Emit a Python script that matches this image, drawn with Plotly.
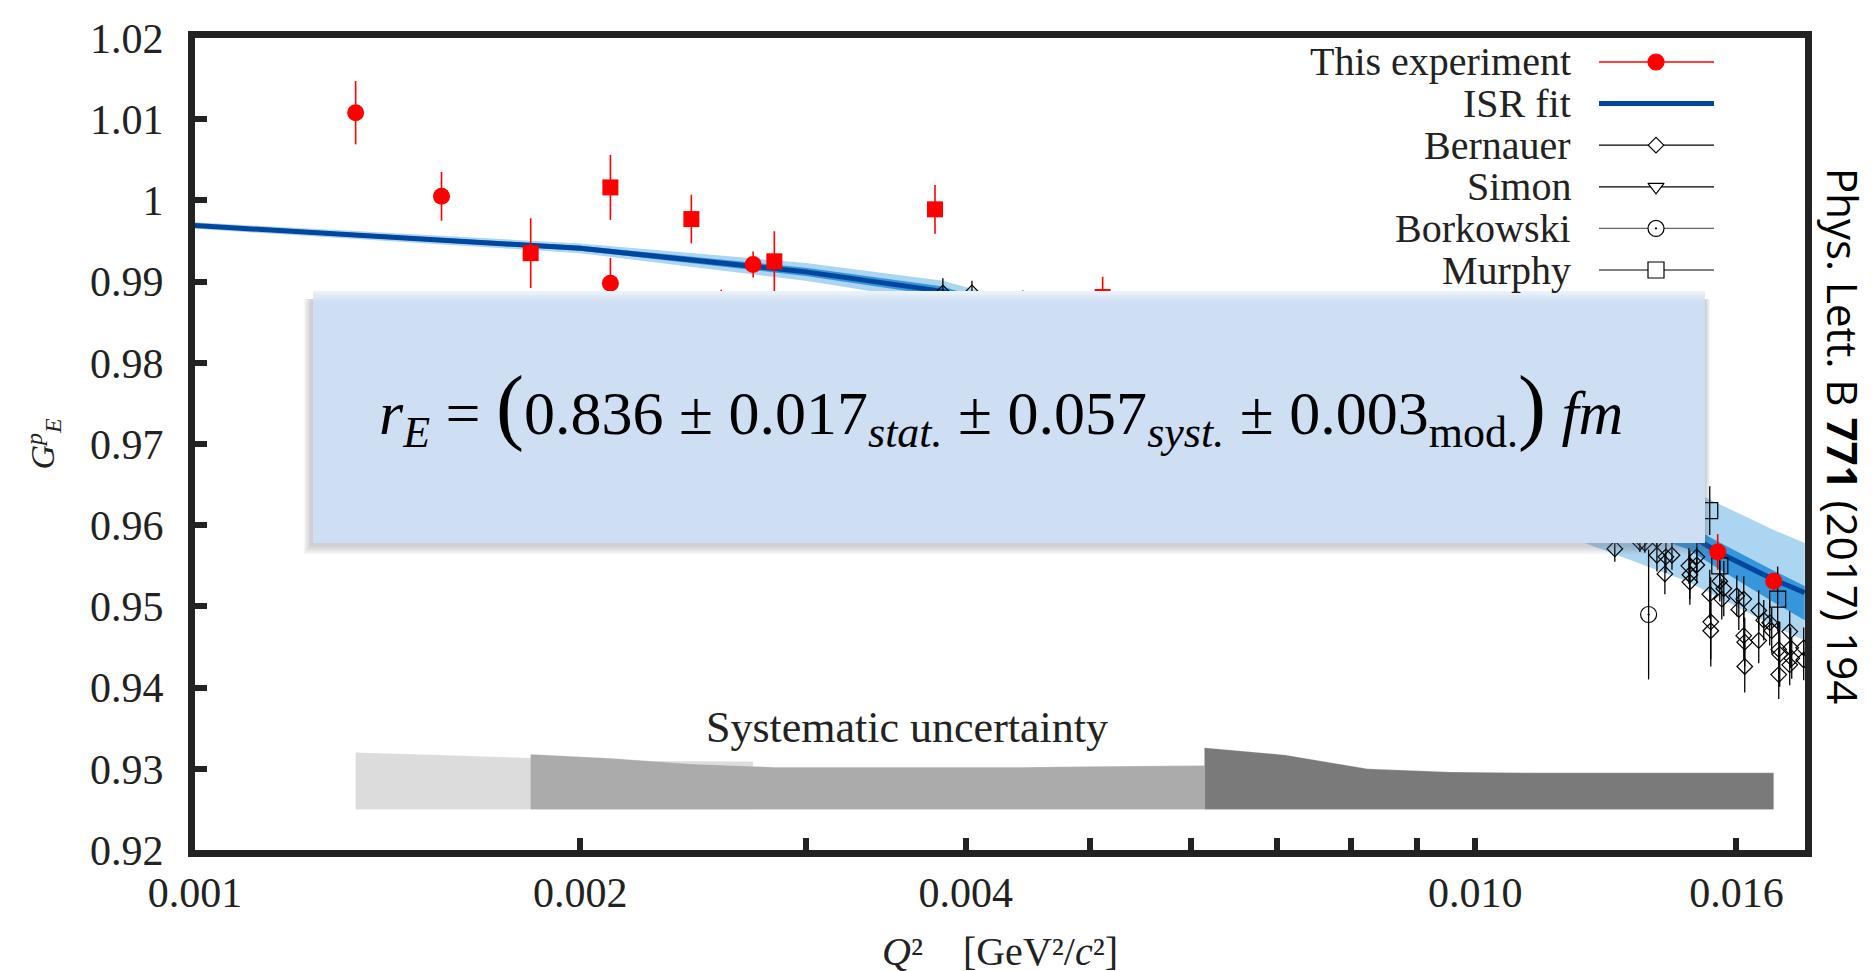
import numpy as np
import plotly.graph_objects as go

# ---------------- data ----------------
# This experiment: two sub-samples (circles / squares)
exp_circle_q = [0.001335, 0.001558, 0.002111, 0.002577, 0.002729, 0.01547, 0.01711]
exp_circle_ge = [1.0108, 1.0005, 0.9898, 0.9866, 0.9921, 0.9567, 0.9531]
exp_circle_err = [0.0039, 0.0030, 0.0031, 0.0024, 0.0016, 0.0022, 0.0010]

exp_square_q = [0.001829, 0.002111, 0.002442, 0.002835, 0.003785, 0.005117]
exp_square_ge = [0.9935, 1.0016, 0.9977, 0.9925, 0.9989, 0.9881]
exp_square_err = [0.0043, 0.0040, 0.0030, 0.0037, 0.0030, 0.0025]

# ISR fit and its uncertainty bands
fit_q = [0.001, 0.002, 0.003, 0.00384, 0.01464, 0.01547, 0.01711, 0.01809]
fit_ge = [0.9969, 0.9941, 0.9912, 0.9888, 0.9590, 0.9567, 0.9533, 0.9517]
fit_total_lo = [0.9965, 0.9935, 0.9901, 0.9874, 0.9531, 0.9512, 0.9476, 0.9458]
fit_total_hi = [0.9973, 0.9947, 0.9923, 0.9901, 0.9645, 0.9627, 0.9594, 0.9578]
fit_stat_lo = [0.9967, 0.9938, 0.9907, 0.9882, 0.9571, 0.9547, 0.9505, 0.9483]
fit_stat_hi = [0.9971, 0.9944, 0.9917, 0.9894, 0.9601, 0.9580, 0.9544, 0.9525]

# Bernauer (Mainz A1)
bern_q = [0.003839, 0.004045, 0.004433,
          0.012856, 0.013449, 0.013570, 0.013868, 0.013868, 0.014094, 0.014248,
          0.014068, 0.014688, 0.014714, 0.014714, 0.014900, 0.014900, 0.015250,
          0.015278, 0.015278, 0.015528, 0.015640, 0.015584, 0.016010, 0.016212,
          0.016068, 0.016212, 0.016241, 0.016241, 0.016655, 0.016806, 0.016655,
          0.016987, 0.017048, 0.017265, 0.017296, 0.017265, 0.017609, 0.017641,
          0.017673, 0.018057, 0.018057, 0.017609]
bern_ge = [0.9886, 0.9886, 0.9877,
           0.9571, 0.9579, 0.9578, 0.9582, 0.9563, 0.9561, 0.9563,
           0.9540, 0.9550, 0.9539, 0.9530, 0.9561, 0.9551, 0.9515,
           0.9481, 0.9470, 0.9531, 0.9522, 0.9509, 0.9513, 0.9509,
           0.9496, 0.9464, 0.9456, 0.9426, 0.9495, 0.9483, 0.9458,
           0.9480, 0.9470, 0.9447, 0.9441, 0.9416, 0.9469, 0.9449,
           0.9436, 0.9449, 0.9434, 0.9428]
bern_err = [0.0018, 0.0015, 0.0012,
            0.0016, 0.0012, 0.0012, 0.0012, 0.0020, 0.0020, 0.0018,
            0.0025, 0.0022, 0.0030, 0.0028, 0.0018, 0.0022, 0.0030,
            0.0055, 0.0035, 0.0025, 0.0034, 0.0025, 0.0025, 0.0028,
            0.0025, 0.0030, 0.0030, 0.0032, 0.0025, 0.0025, 0.0028,
            0.0028, 0.0028, 0.0035, 0.0040, 0.0030, 0.0025, 0.0025,
            0.0025, 0.0025, 0.0025, 0.0025]

borkowski_q = [0.013662]
borkowski_ge = [0.9490]
borkowski_err = [0.0080]

murphy_q = [0.015250, 0.015528, 0.017232]
murphy_ge = [0.9618, 0.9550, 0.9509]
murphy_err = [0.0030, 0.0020, 0.0040]

# Systematic uncertainty bands (drawn from a common base)
syst_base = 0.925
syst_a_q = [0.001335, 0.001558, 0.002111, 0.002729]
syst_a_top = [0.9320, 0.9317, 0.9310, 0.9309]
syst_b_q = [0.001829, 0.002111, 0.002442, 0.002835, 0.003785, 0.004418, 0.005117, 0.005993, 0.006146]
syst_b_top = [0.9318, 0.9313, 0.9306, 0.9302, 0.9302, 0.9302, 0.9303, 0.9304, 0.9304]
syst_c_q = [0.006146, 0.007108, 0.008237, 0.009562, 0.011078, 0.012953, 0.01547, 0.01711]
syst_c_top = [0.9326, 0.9317, 0.9300, 0.9296, 0.9295, 0.9295, 0.9295, 0.9295]

# Axis ticks
x_tick_vals = [0.001, 0.002, 0.004, 0.010, 0.016]
x_tick_text = ["0.001", "0.002", "0.004", "0.010", "0.016"]
x_minor_vals = [0.003, 0.005, 0.006, 0.007, 0.008, 0.009]
y_tick_vals = [0.92, 0.93, 0.94, 0.95, 0.96, 0.97, 0.98, 0.99, 1.00, 1.01, 1.02]
y_tick_text = ["0.92", "0.93", "0.94", "0.95", "0.96", "0.97", "0.98", "0.99", "1", "1.01", "1.02"]

radius_line_q = 0.004
legend_labels = ["This experiment", "ISR fit", "Bernauer", "Simon", "Borkowski", "Murphy"]

# ---------------- layout constants ----------------
W, H = 1876, 971
ML, MR, MT, MB = 187, 79, 30, 129
PW, PH = W - ML - MR, H - MT - MB
SERIF = "Liberation Serif, Times New Roman, serif"
INK = "#222222"


def pxx(px):
    return (px - ML) / PW


def pxy(py):
    return (H - MB - py) / PH


def poly(xs, top, base):
    return list(xs) + list(xs)[::-1], list(top) + [base] * len(xs)


def band(xs, lo, hi):
    return list(xs) + list(xs)[::-1], list(hi) + list(lo)[::-1]


def shifted(txt, size, shift):
    # sub/superscript via baseline-shift (no extra spacer elements)
    return "<span style='font-size:%dpx;baseline-shift:%dpx'>%s</span>" % (size, shift, txt)


fig = go.Figure()

# systematic uncertainty
for qs, tops, col in [(syst_a_q, syst_a_top, "#dcdcdc"),
                      (syst_b_q, syst_b_top, "#ababab"),
                      (syst_c_q, syst_c_top, "#7a7a7a")]:
    px_, py_ = poly(qs, tops, syst_base)
    fig.add_trace(go.Scatter(x=px_, y=py_, fill="toself", fillcolor=col,
                             line=dict(width=0.6, color="rgba(255,255,255,0.35)"),
                             mode="lines", hoverinfo="skip", showlegend=False))

# ISR fit bands and line
bx, by = band(fit_q, fit_total_lo, fit_total_hi)
fig.add_trace(go.Scatter(x=bx, y=by, fill="toself", fillcolor="#acd5f1",
                         line=dict(width=0), mode="lines", hoverinfo="skip", showlegend=False))
bx, by = band(fit_q, fit_stat_lo, fit_stat_hi)
fig.add_trace(go.Scatter(x=bx, y=by, fill="toself", fillcolor="#3596db",
                         line=dict(width=0), mode="lines", hoverinfo="skip", showlegend=False))
fig.add_trace(go.Scatter(x=fit_q, y=fit_ge, mode="lines",
                         line=dict(color="#00469f", width=5), showlegend=False))

# world data
err_black = dict(type="data", thickness=1.3, width=0, color="black")
fig.add_trace(go.Scatter(x=bern_q, y=bern_ge, mode="markers",
                         error_y=dict(array=bern_err, **err_black),
                         marker=dict(symbol="diamond-open", size=12, color="black", line=dict(width=1.2)),
                         cliponaxis=False, showlegend=False))
fig.add_trace(go.Scatter(x=borkowski_q, y=borkowski_ge, mode="markers",
                         error_y=dict(array=borkowski_err, **err_black),
                         marker=dict(symbol="circle-open-dot", size=16, color="black", line=dict(width=1.2)),
                         showlegend=False))
fig.add_trace(go.Scatter(x=murphy_q, y=murphy_ge, mode="markers",
                         error_y=dict(array=murphy_err, **err_black),
                         marker=dict(symbol="square-open", size=16, color="black", line=dict(width=1.2)),
                         showlegend=False))

# this experiment
err_red = dict(type="data", thickness=1.6, width=0, color="#ff0000")
fig.add_trace(go.Scatter(x=exp_circle_q, y=exp_circle_ge, mode="markers",
                         error_y=dict(array=exp_circle_err, **err_red),
                         marker=dict(symbol="circle", size=17, color="#ff0000"), showlegend=False))
fig.add_trace(go.Scatter(x=exp_square_q, y=exp_square_ge, mode="markers",
                         error_y=dict(array=exp_square_err, **err_red),
                         marker=dict(symbol="square", size=16, color="#ff0000"), showlegend=False))

# ---------------- custom legend (symbols to the right of the text) ----------------
row_y0, row_dy = 54, 41.6
lx0, lx1, lxm, ltext = 1591, 1706, 1648, 1564
leg_styles = [
    dict(lc="#ff0000", lw=1.3, sym="circle", ms=16, mc="#ff0000", mlc="#ff0000"),
    dict(lc="#00469f", lw=5, sym=None),
    dict(lc="black", lw=1.2, sym="diamond", ms=12, mc="white", mlc="black"),
    dict(lc="black", lw=1.2, sym="triangle-down", ms=14, mc="white", mlc="black"),
    dict(lc="#666666", lw=1.2, sym="circle-dot", ms=16, mc="white", mlc="black"),
    dict(lc="black", lw=1.2, sym="square", ms=16, mc="white", mlc="black"),
]
annotations = []
for i, (lab, st) in enumerate(zip(legend_labels, leg_styles)):
    yy = pxy(row_y0 + i * row_dy)
    fig.add_trace(go.Scatter(x=[pxx(lx0), pxx(lx1)], y=[yy, yy], mode="lines",
                             line=dict(color=st["lc"], width=st["lw"]),
                             xaxis="x2", yaxis="y2", hoverinfo="skip", showlegend=False))
    if st["sym"]:
        fig.add_trace(go.Scatter(x=[pxx(lxm)], y=[yy], mode="markers",
                                 marker=dict(symbol=st["sym"], size=st["ms"], color=st["mc"],
                                             line=dict(color=st["mlc"], width=1.2)),
                                 xaxis="x2", yaxis="y2", hoverinfo="skip", showlegend=False))
    annotations.append(dict(xref="paper", yref="paper", x=pxx(ltext), y=yy, text=lab,
                            xanchor="right", yanchor="middle", showarrow=False, borderpad=0,
                            font=dict(family=SERIF, size=40, color=INK)))

# ---------------- shapes: dashed line + result box ----------------
shapes = []
xl = np.log10(radius_line_q)
shapes.append(dict(type="line", xref="x", yref="paper", x0=xl, x1=xl, y0=1.0, y1=-0.008,
                   line=dict(color="#4774a6", width=10, dash="32px,11px"), layer="above"))

bx0, by0, bx1, by1 = 305, 283, 1697, 535
for k in range(6, 0, -1):
    shapes.append(dict(type="rect", xref="paper", yref="paper",
                       x0=pxx(bx0 - 1 - k * 1.4), x1=pxx(bx1 + k * 0.8),
                       y0=pxy(by1 + 2 + k * 1.5), y1=pxy(by0 + 8),
                       line=dict(width=0), fillcolor="rgba(100,110,125,0.06)", layer="above"))
shapes.append(dict(type="rect", xref="paper", yref="paper",
                   x0=pxx(bx0), x1=pxx(bx1), y0=pxy(by1), y1=pxy(by0),
                   line=dict(width=0), fillcolor="rgb(206,223,243)", layer="above"))
for k in range(5):
    shapes.append(dict(type="rect", xref="paper", yref="paper",
                       x0=pxx(bx0 - 12), x1=pxx(bx1 + 12),
                       y0=pxy(by0 + 2 * k + 2), y1=pxy(by0 + 2 * k),
                       line=dict(width=0), fillcolor="rgba(255,255,255,%.2f)" % (0.6 - 0.12 * k),
                       layer="above"))

formula = ("<i>r</i>" + shifted("<i>E</i>", 44, -13)
           + " = <span style='font-size:84px'>(</span>0.836 ± 0.017"
           + shifted("<i>stat.</i>", 44, -13) + " ± 0.057" + shifted("<i>syst.</i>", 44, -13)
           + " ± 0.003" + shifted("mod.", 44, -13)
           + "<span style='font-size:84px'>)</span> <i>fm</i>")
annotations.append(dict(xref="paper", yref="paper", x=pxx(993), y=pxy(400), text=formula,
                        showarrow=False, xanchor="center", yanchor="middle",
                        font=dict(family=SERIF, size=62, color="black")))

annotations.append(dict(xref="x", yref="y", x=np.log10(0.0036), y=0.9351,
                        text="Systematic uncertainty", showarrow=False,
                        xanchor="center", yanchor="middle",
                        font=dict(family=SERIF, size=44, color=INK)))

annotations.append(dict(xref="paper", yref="paper", x=pxx(1836), y=pxy(428),
                        text="Phys. Lett. B <b>771</b> (2017) 194", textangle=90,
                        showarrow=False, xanchor="center", yanchor="middle",
                        font=dict(family="Open Sans, Noto Sans, sans-serif", size=42, color="black")))

tick_common = dict(ticks="inside", ticklen=12, tickwidth=6, tickcolor=INK,
                   showline=True, linewidth=7, linecolor=INK, mirror=True,
                   showgrid=False, zeroline=False)

y_title = "<i>G</i>" + shifted("<i>p</i>", 24, 12) + shifted("<i>E</i>", 24, -7)

fig.update_layout(
    width=W, height=H, margin=dict(l=ML, r=MR, t=MT, b=MB, autoexpand=False),
    paper_bgcolor="white", plot_bgcolor="white",
    shapes=shapes, annotations=annotations, showlegend=False,
    xaxis=dict(type="log", range=[np.log10(0.001), np.log10(0.0181)],
               tickvals=x_tick_vals, ticktext=x_tick_text, ticklabelstandoff=0,
               minor=dict(tickvals=x_minor_vals, ticks="inside", ticklen=12, tickwidth=6,
                          tickcolor=INK, showgrid=False),
               tickfont=dict(family=SERIF, size=42, color=INK),
               title=dict(text="<i>Q</i>²&nbsp;&nbsp;&nbsp;&nbsp;[GeV²/<i>c</i>²]",
                          font=dict(family=SERIF, size=40, color=INK), standoff=24),
               **tick_common),
    yaxis=dict(range=[0.92, 1.02], tickvals=y_tick_vals, ticktext=y_tick_text,
               ticklabelstandoff=16,
               tickfont=dict(family=SERIF, size=42, color=INK),
               title=dict(text=y_title, font=dict(family=SERIF, size=34, color=INK), standoff=28),
               **tick_common),
    xaxis2=dict(domain=[0, 1], range=[0, 1], overlaying="x", anchor="y2", visible=False),
    yaxis2=dict(domain=[0, 1], range=[0, 1], overlaying="y", anchor="x2", visible=False),
)

fig.write_html("out.html")
